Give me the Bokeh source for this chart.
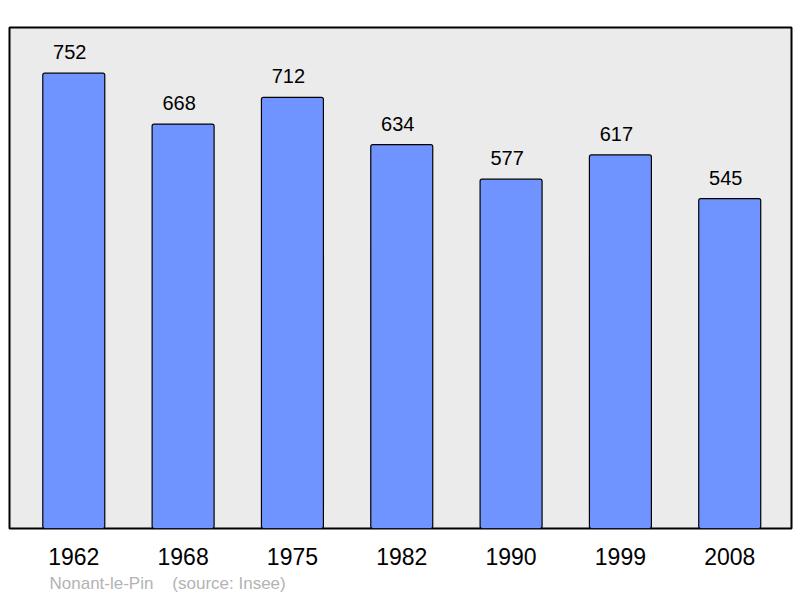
from bokeh.plotting import figure
from bokeh.models import Range1d, FixedTicker, Title, ColumnDataSource
from bokeh.core.properties import value
from bokeh.embed import file_html
from bokeh.resources import INLINE

years = ["1962", "1968", "1975", "1982", "1990", "1999", "2008"]
population = [752, 668, 712, 634, 577, 617, 545]
caption = "Nonant-le-Pin\u00a0\u00a0\u00a0\u00a0(source: Insee)"

xs = list(range(len(years)))
src = ColumnDataSource(dict(x=xs, top=population, label=[str(v) for v in population]))

p = figure(width=800, height=598, output_backend="svg", toolbar_location=None,
           x_range=Range1d(-0.588, 6.565), y_range=Range1d(0, 827.5),
           min_border_left=9, min_border_right=9, min_border_top=27, min_border_bottom=70)
p.background_fill_color = "#ebebeb"
p.border_fill_color = "white"
p.outline_line_color = "black"
p.outline_line_width = 2
p.grid.visible = False
p.yaxis.visible = False

p.vbar(x="x", top="top", width=0.567, bottom=0, source=src,
       fill_color="#7094ff", line_color="black", line_width=1.2, border_radius=2)
p.text(x="x", y="top", text="label", source=src, text_align="center",
       text_baseline="alphabetic", y_offset=-21, x_offset=-4,
       text_font_size="20px", text_color="black", text_font=value("Liberation Sans"))

ax = p.xaxis[0]
ax.ticker = FixedTicker(ticks=xs)
ax.major_label_overrides = {i: y for i, y in zip(xs, years)}
ax.axis_line_color = None
ax.major_tick_line_color = None
ax.minor_tick_line_color = None
ax.major_tick_out = 0
ax.major_tick_in = 0
ax.major_label_standoff = 19
ax.major_label_text_font_size = "23px"
ax.major_label_text_font = "Liberation Sans"
ax.major_label_text_color = "black"

t = Title(text=caption, align="left", offset=40, text_font_size="17px",
          text_font="Liberation Sans", text_font_style="normal",
          text_color="#b3b3b3", standoff=9)
p.add_layout(t, "below")

open("out.html", "w").write(file_html(p, INLINE))
